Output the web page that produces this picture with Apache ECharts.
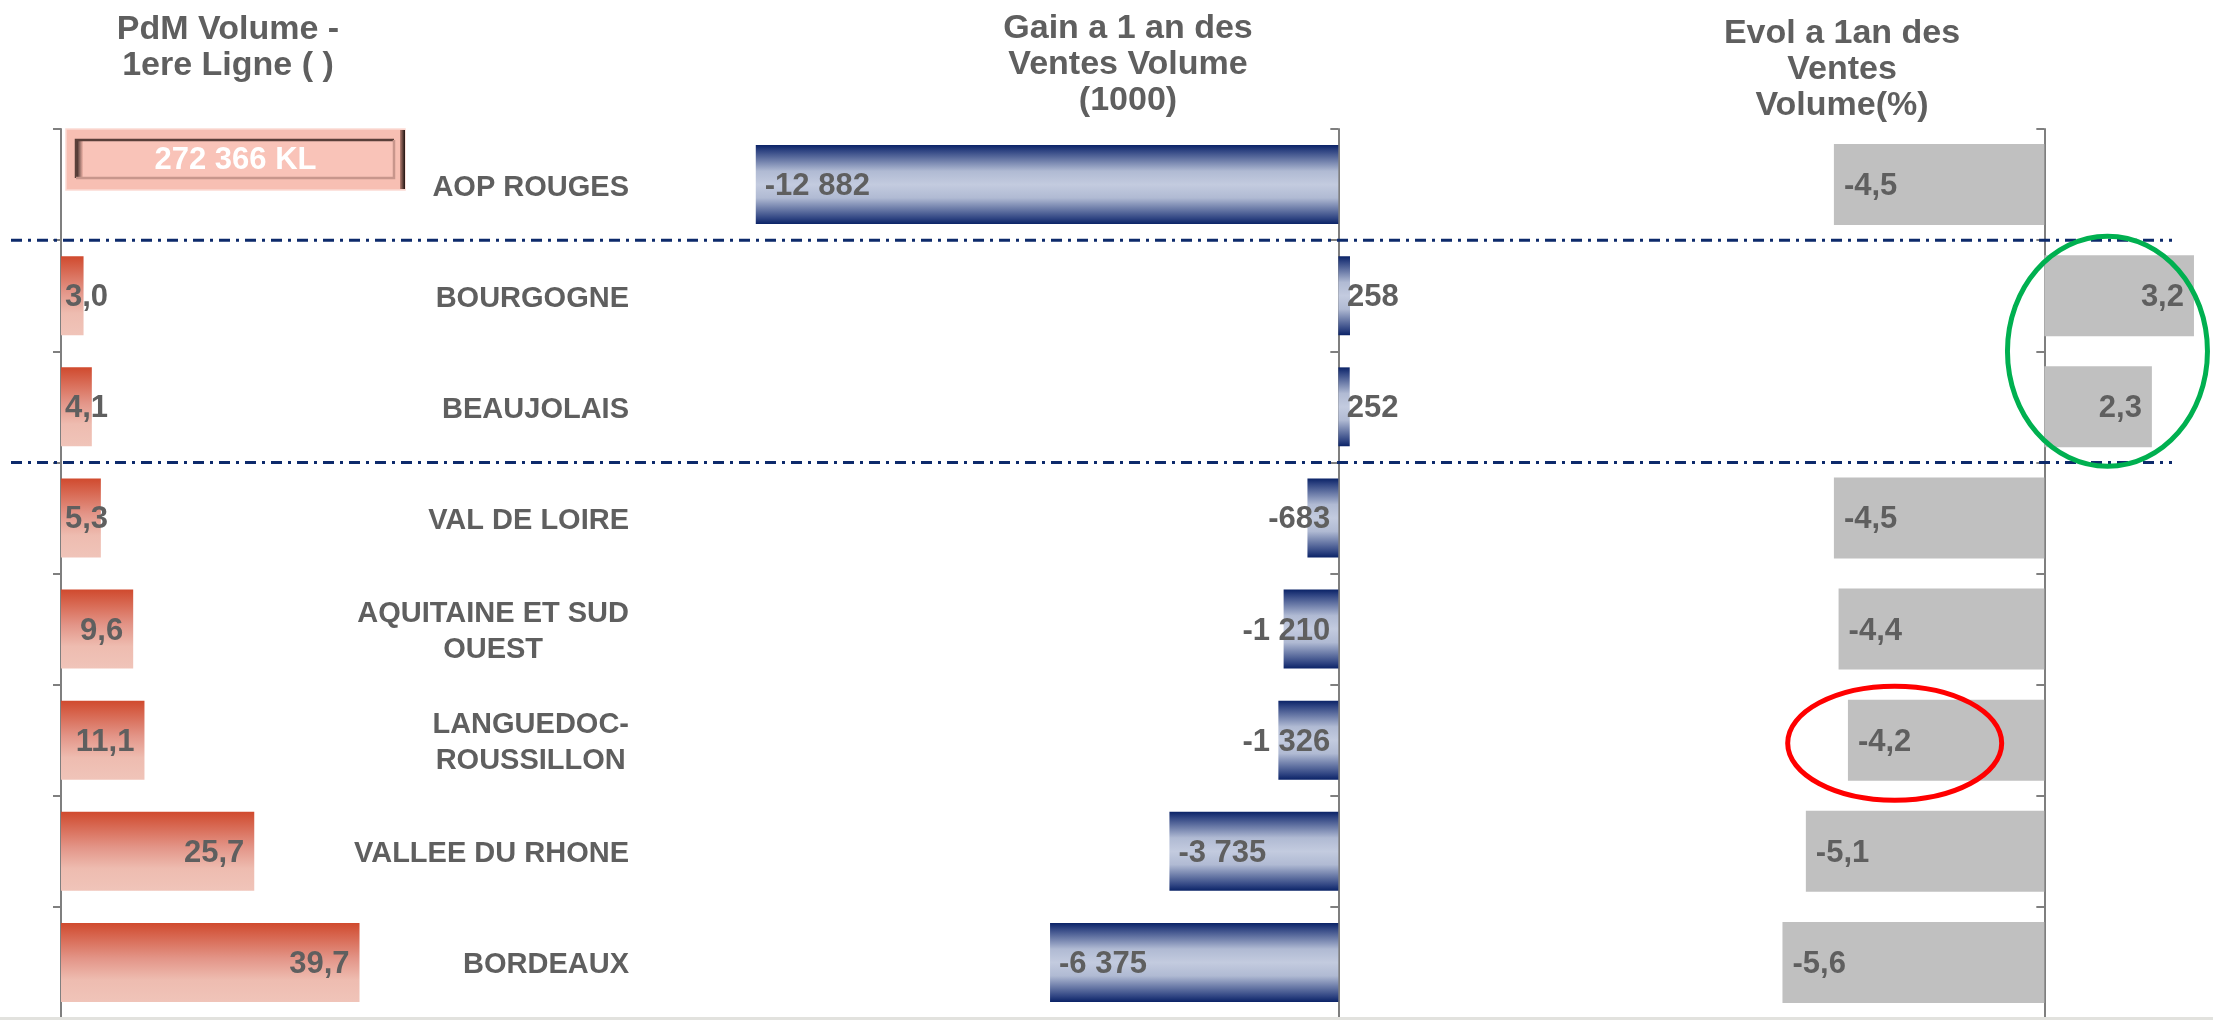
<!DOCTYPE html>
<html>
<head>
<meta charset="utf-8">
<script src="https://cdn.jsdelivr.net/npm/echarts@6/dist/echarts.min.js"></script>
<style>
  html, body { margin: 0; padding: 0; background: #ffffff; }
  #chart { width: 2213px; height: 1020px; }
</style>
</head>
<body>
<div id="chart"></div>
<script>
// Regions, top to bottom
const regions = [
  'AOP ROUGES',
  'BOURGOGNE',
  'BEAUJOLAIS',
  'VAL DE LOIRE',
  'AQUITAINE ET SUD\nOUEST',
  'LANGUEDOC-\nROUSSILLON',
  'VALLEE DU RHONE',
  'BORDEAUX'
];
// Market share (volume, first line), %
const pdmShare = [null, 3.0, 4.1, 5.3, 9.6, 11.1, 25.7, 39.7];
// One-year gain in sales volume (thousands)
const volumeGain = [-12882, 258, 252, -683, -1210, -1326, -3735, -6375];
// One-year change in sales volume, %
const volumeEvol = [-4.5, 3.2, 2.3, -4.5, -4.4, -4.2, -5.1, -5.6];
// Total volume shown in the AOP ROUGES row
const totalVolume = '272 366 KL';
const panelTitles = [
  'PdM Volume -\n1ere Ligne ( )',
  'Gain a 1 an des\nVentes Volume\n(1000)',
  'Evol a 1an des\nVentes\nVolume(%)'
];

const FONT = '"Liberation Sans", Arial, sans-serif';
const TEXT = '#5f5f5f';
const AXIS = '#7f7f7f';

const decimal = v => v.toFixed(1).replace('.', ',');
const spaced = v => (v < 0 ? '-' : '') + Math.abs(v).toString().replace(/\B(?=(\d{3})+(?!\d))/g, ' ');

const valueLabel = { show: true, color: TEXT, fontSize: 31, fontWeight: 'bold', fontFamily: FONT };

const vGrad = stops => ({
  type: 'linear', x: 0, y: 0, x2: 0, y2: 1,
  colorStops: stops.map(([offset, color]) => ({ offset, color }))
});

const redFill = vGrad([[0, '#d04a2e'], [0.45, '#e39588'], [0.72, '#eebcb0'], [1, '#f0c4b9']]);
const navyFill = vGrad([[0, '#0b2367'], [0.07, '#2f4482'], [0.33, '#b0bad3'], [0.5, '#c3cbdf'],
                        [0.67, '#b0bad3'], [0.93, '#2f4482'], [1, '#0b2367']]);

const hiddenX = (gridIndex, min, max) => ({
  type: 'value', gridIndex, min, max,
  axisLine: { show: false }, axisTick: { show: false },
  axisLabel: { show: false }, splitLine: { show: false }
});

const catAxis = (gridIndex, extra) => Object.assign({
  type: 'category', gridIndex, data: regions, inverse: true,
  axisLine: { show: true, lineStyle: { color: AXIS, width: 2 } },
  axisTick: { show: true, length: 8, lineStyle: { color: AXIS, width: 2 } },
  axisLabel: { show: false }
}, extra || {});

const chart = echarts.init(document.getElementById('chart'), null, { renderer: 'canvas' });

chart.setOption({
  backgroundColor: '#ffffff',
  animation: false,
  grid: [
    { left: 61, top: 129, width: 579, height: 889 },
    { left: 660, top: 129, width: 814, height: 889 },
    { left: 1717, top: 129, width: 491, height: 889 }
  ],
  xAxis: [
    hiddenX(0, 0, 77),
    hiddenX(1, -15000, 3000),
    hiddenX(2, -7, 3.5)
  ],
  yAxis: [
    catAxis(0),
    catAxis(0, {
      position: 'right',
      axisLine: { show: false },
      axisTick: { show: false },
      axisLabel: {
        show: true, inside: true, margin: 11,
        formatter: v => v.split('\n').map(l => '{c|' + l + '}').join('\n'),
        rich: {
          c: { align: 'center', color: TEXT, fontSize: 29, fontWeight: 'bold', fontFamily: FONT,
               lineHeight: 36, padding: [6, 0, 0, 0] }
        }
      }
    }),
    catAxis(1, { axisLine: { show: true, onZero: true, lineStyle: { color: AXIS, width: 2 } } }),
    catAxis(2, { axisLine: { show: true, onZero: true, lineStyle: { color: AXIS, width: 2 } } })
  ],
  series: [
    {
      name: 'PdM Volume', type: 'bar', xAxisIndex: 0, yAxisIndex: 0,
      barWidth: '71%',
      itemStyle: { color: redFill },
      label: Object.assign({}, valueLabel, { formatter: p => decimal(p.value), offset: [0, 2] }),
      data: pdmShare.map(v => v == null ? '-' : {
        value: v,
        label: v >= 8 ? { position: 'insideRight', distance: 10 } : { position: 'insideLeft', distance: 4 }
      })
    },
    {
      name: 'Gain Ventes Volume', type: 'bar', xAxisIndex: 1, yAxisIndex: 2,
      barWidth: '71%',
      itemStyle: { color: navyFill },
      label: Object.assign({}, valueLabel, { formatter: p => spaced(p.value), offset: [0, 2] }),
      data: volumeGain.map(v => ({
        value: v,
        label: v > 0 ? { position: 'right', distance: -3 }
             : v < -2000 ? { position: 'insideLeft', distance: 9 }
             : { position: 'insideRight', distance: 8 }
      }))
    },
    {
      name: 'Evol Ventes Volume', type: 'bar', xAxisIndex: 2, yAxisIndex: 3,
      barWidth: '73%',
      itemStyle: { color: '#c0c0c0' },
      label: Object.assign({}, valueLabel, { formatter: p => decimal(p.value), offset: [0, 2] }),
      data: volumeEvol.map(v => ({
        value: v,
        label: v < 0 ? { position: 'insideLeft', distance: 10 } : { position: 'insideRight', distance: 10 }
      }))
    }
  ]
});

// Annotations placed from the axes' own scales
const px = (xi, yi, x, y) => chart.convertToPixel({ xAxisIndex: xi, yAxisIndex: yi }, [x, y]);
const rowY = i => px(0, 0, 0, i)[1];
const band = rowY(1) - rowY(0);
const axis0X = px(0, 0, 0, 0)[0];

const titleFont = 'bold 34px ' + FONT;
const titleAt = [[228, 12], [1128, 11], [1842, 16]];

const graphics = panelTitles.map((t, i) => ({
  type: 'text', z: 50,
  style: { text: t, x: titleAt[i][0], y: titleAt[i][1], fill: TEXT, font: titleFont,
           align: 'center', verticalAlign: 'top', lineHeight: 36 }
}));

// Framed total box in the AOP ROUGES row
const bx = axis0X + 5, by = rowY(0) - band / 2, bw = 339, bh = 61;
const ix = bx + 10, iy = by + 11, iw = 318, ih = 38;
graphics.push(
  { type: 'rect', z: 60, shape: { x: bx, y: by, width: bw, height: bh },
    style: { fill: '#f7bfb3', stroke: '#fbdad3', lineWidth: 1.5 } },
  { type: 'rect', z: 61, shape: { x: bx + bw - 5, y: by + 1, width: 5, height: bh - 2 },
    style: { fill: { type: 'linear', x: 0, y: 0, x2: 1, y2: 0,
      colorStops: [{ offset: 0, color: '#b98074' }, { offset: 1, color: '#1e1210' }] } } },
  { type: 'rect', z: 61, shape: { x: ix, y: iy, width: iw, height: ih },
    style: { fill: '#f9c3b8' } },
  { type: 'rect', z: 62, shape: { x: ix, y: iy, width: 7, height: ih },
    style: { fill: { type: 'linear', x: 0, y: 0, x2: 1, y2: 0,
      colorStops: [{ offset: 0, color: '#2b1b18' }, { offset: 1, color: '#f3b7ab' }] } } },
  { type: 'polyline', z: 62, shape: { points: [[ix, iy + ih], [ix, iy], [ix + iw, iy]] },
    style: { stroke: '#5a3f39', lineWidth: 2.5, fill: null } },
  { type: 'polyline', z: 62, shape: { points: [[ix + iw, iy], [ix + iw, iy + ih], [ix, iy + ih]] },
    style: { stroke: '#c8968c', lineWidth: 2.5, fill: null } },
  { type: 'text', z: 63,
    style: { text: totalVolume, x: bx + bw / 2, y: by + bh / 2 + 1, fill: '#ffffff',
             font: 'bold 31px ' + FONT, align: 'center', verticalAlign: 'middle' } }
);

// Dash-dot separators between the groups of rows
[[0, 1], [2, 3]].forEach(([a, b]) => {
  const y = (rowY(a) + rowY(b)) / 2;
  graphics.push({
    type: 'line', z: 80, shape: { x1: 11, y1: y, x2: 2172, y2: y },
    style: { stroke: '#0d2a6b', lineWidth: 3, lineDash: [11, 6, 3, 6] }
  });
});

// Highlight rings on the right panel
const gc = px(2, 3, 1.35, 1), gc2 = px(2, 3, 1.35, 2);
graphics.push({
  type: 'ellipse', z: 90,
  shape: { cx: gc[0], cy: (gc[1] + gc2[1]) / 2, rx: 100, ry: 115 },
  style: { stroke: '#00b050', lineWidth: 5, fill: null }
});
const rc = px(2, 3, -3.2, 5);
graphics.push({
  type: 'ellipse', z: 90,
  shape: { cx: rc[0], cy: rc[1] + 3, rx: 107, ry: 57 },
  style: { stroke: '#ff0000', lineWidth: 5, fill: null }
});

// Thin frame line along the bottom edge
graphics.push({
  type: 'rect', z: 5, shape: { x: 0, y: 1017, width: 2213, height: 3 },
  style: { fill: '#e2e2de' }
});

chart.setOption({ graphic: graphics });
</script>
</body>
</html>
